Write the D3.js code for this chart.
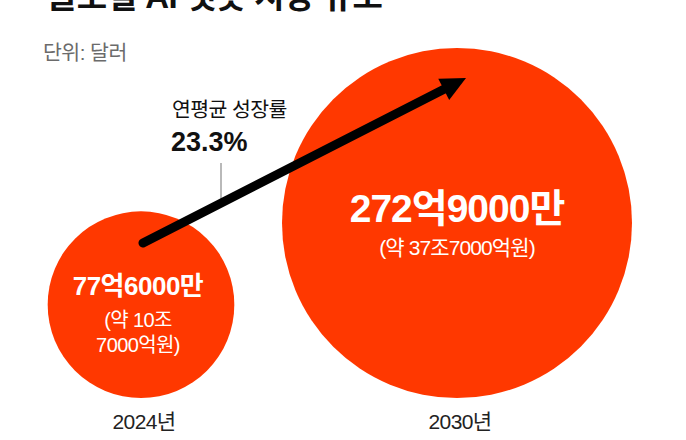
<!DOCTYPE html>
<html>
<head>
<meta charset="utf-8">
<script src="https://cdn.jsdelivr.net/npm/d3@7"></script>
<style>
  html, body { margin: 0; padding: 0; background: #fff; }
  svg { display: block; }
  text { font-family: "Liberation Sans", "Noto Sans CJK KR", sans-serif; }
</style>
</head>
<body>
<svg id="chart" width="686" height="440"></svg>
<script>
// ---- data ----
const title = "글로벌 AI 챗봇 시장 규모";
const unitLabel = "단위: 달러";
const years = ["2024년", "2030년"];
const valuesEok = [77.6, 272.9];            // 억 달러 (hundred-million USD)
const mainLabels = ["77억6000만", "272억9000만"];
const subLabels = [["(약 10조", "7000억원)"], ["(약 37조7000억원)"]];
const growthLabel = "연평균 성장률";
const growthValue = "23.3%";

// ---- layout ----
const W = 686, H = 440;
const color = "#ff3800";
const svg = d3.select("#chart");

const x = d3.scalePoint().domain(years).range([141, 457]);
const r = d3.scaleSqrt().domain([0, d3.max(valuesEok)]).range([0, 175]);
const baseY = 398; // circles sit on a common bottom line

// title (cut off at top, as in the source image)
svg.append("text").attr("x", 47).attr("y", 8)
  .attr("font-size", 33).attr("font-weight", 700).attr("fill", "#111")
  .attr("letter-spacing", -0.5)
  .text(title);

svg.append("text").attr("x", 43).attr("y", 60)
  .attr("font-size", 20.5).attr("fill", "#6b6b6b")
  .attr("letter-spacing", -0.5)
  .text(unitLabel);

const data = years.map((y, i) => ({ year: y, v: valuesEok[i], main: mainLabels[i], sub: subLabels[i] }));

svg.selectAll("circle.bubble").data(data).join("circle")
  .attr("class", "bubble")
  .attr("cx", d => x(d.year))
  .attr("cy", d => baseY - r(d.v))
  .attr("r", d => r(d.v))
  .attr("fill", color);

// year labels
svg.selectAll("text.year").data(data).join("text")
  .attr("class", "year")
  .attr("x", d => x(d.year) + 3)
  .attr("y", 429)
  .attr("text-anchor", "middle")
  .attr("font-size", 21).attr("fill", "#222")
  .attr("letter-spacing", -0.6)
  .text(d => d.year);

// value labels
const small = data[0], big = data[1];
const sCy = baseY - r(small.v), bCy = baseY - r(big.v);

svg.append("text").attr("x", x(small.year) - 3).attr("y", sCy - 10)
  .attr("text-anchor", "middle").attr("font-size", 26).attr("font-weight", 700)
  .attr("fill", "#fff").attr("letter-spacing", -0.5).text(small.main);
const sSub = svg.append("text").attr("x", x(small.year) - 3).attr("y", sCy + 22)
  .attr("text-anchor", "middle").attr("font-size", 20)
  .attr("fill", "#fff").attr("letter-spacing", -0.6);
small.sub.forEach((t, i) => {
  sSub.append("tspan").attr("x", x(small.year) - 3).attr("dy", i === 0 ? 0 : 25).text(t);
});

svg.append("text").attr("x", x(big.year)).attr("y", bCy - 1)
  .attr("text-anchor", "middle").attr("font-size", 39).attr("font-weight", 700)
  .attr("fill", "#fff").attr("letter-spacing", -1).text(big.main);
const bSub = svg.append("text").attr("x", x(big.year)).attr("y", bCy + 32)
  .attr("text-anchor", "middle").attr("font-size", 21)
  .attr("fill", "#fff").attr("letter-spacing", -0.9);
big.sub.forEach((t, i) => {
  bSub.append("tspan").attr("x", x(big.year)).attr("dy", i === 0 ? 0 : 25).text(t);
});

// growth annotation
svg.append("line").attr("x1", 221).attr("x2", 221).attr("y1", 163).attr("y2", 205)
  .attr("stroke", "#8a8a8a").attr("stroke-width", 1.2);

svg.append("text").attr("x", 172).attr("y", 117)
  .attr("font-size", 20.5).attr("fill", "#111").attr("letter-spacing", -0.6)
  .text(growthLabel);
svg.append("text").attr("x", 171).attr("y", 151)
  .attr("font-size", 27).attr("font-weight", 700).attr("fill", "#111")
  .attr("letter-spacing", 0)
  .text(growthValue);

// arrow
const start = [143, 243], tip = [466, 78];
const ang = Math.atan2(tip[1] - start[1], tip[0] - start[0]);
const headLen = 25, headHalf = 12;
const baseMid = [tip[0] - headLen * Math.cos(ang), tip[1] - headLen * Math.sin(ang)];
svg.append("line")
  .attr("x1", start[0]).attr("y1", start[1])
  .attr("x2", baseMid[0] + 3 * Math.cos(ang)).attr("y2", baseMid[1] + 3 * Math.sin(ang))
  .attr("stroke", "#000").attr("stroke-width", 9).attr("stroke-linecap", "round");
const px = -Math.sin(ang), py = Math.cos(ang);
svg.append("path")
  .attr("d", d3.line()([
    tip,
    [baseMid[0] + headHalf * px, baseMid[1] + headHalf * py],
    [baseMid[0] - headHalf * px, baseMid[1] - headHalf * py]
  ]) + "Z")
  .attr("fill", "#000");
</script>
</body>
</html>
